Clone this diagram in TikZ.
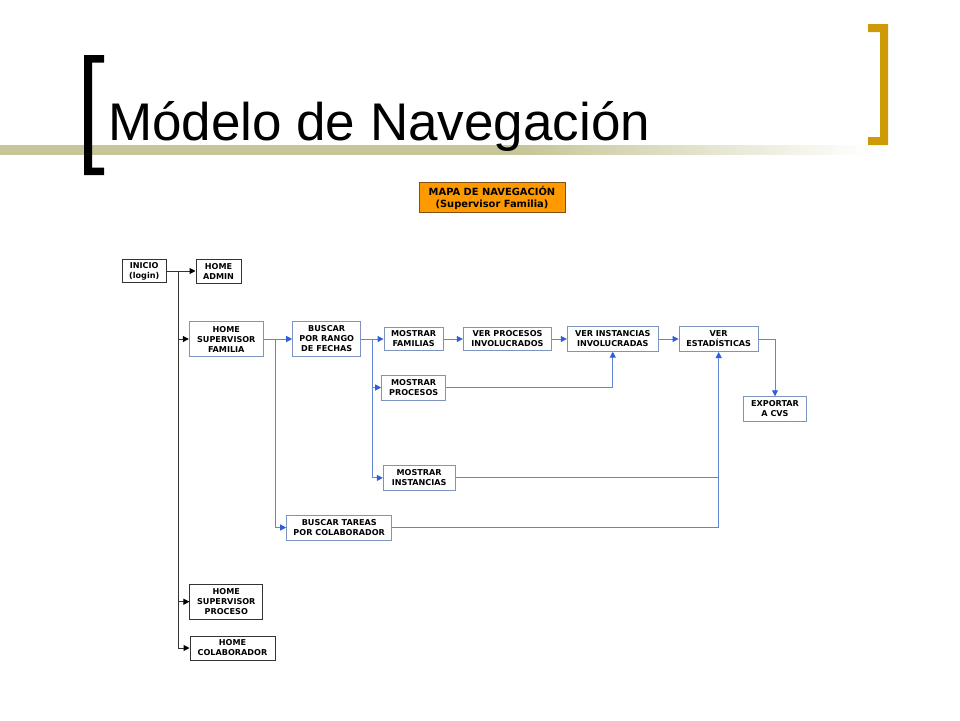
\documentclass[tikz,border=0pt]{standalone}
\usepackage{fontspec}
\usepackage{xcolor}
\usepackage{tikz}
\usetikzlibrary{arrows.meta}
\setmainfont{Liberation Sans}
\newfontfamily\navfont{DejaVu Sans}
\definecolor{olivebar}{RGB}{198,198,152}
\definecolor{bracketgold}{RGB}{206,154,8}
\definecolor{boxblue}{RGB}{125,148,192}
\definecolor{lineblue}{RGB}{98,132,210}
\definecolor{tipblue}{RGB}{45,95,220}
\definecolor{mapaorange}{RGB}{255,153,0}
\definecolor{mapaedge}{RGB}{130,80,20}
\pgfdeclarehorizontalshading{barfade}{100bp}{color(0bp)=(olivebar); color(25bp)=(olivebar); color(55bp)=(olivebar); color(75bp)=(white); color(100bp)=(white)}

\begin{document}
\begin{tikzpicture}[x=1pt,y=-1pt,
  navbox/.style={draw=boxblue, line width=1pt, fill=white, align=center, inner sep=0pt,
    font=\navfont\bfseries\fontsize{8.1}{10}\selectfont},
  homebox/.style={navbox, draw=black!80},
  link/.style={draw=lineblue, line width=1pt, -{Triangle[length=6pt,width=6pt,color=tipblue]}},
  trunk/.style={draw=black!80, line width=1pt, -{Triangle[length=6pt,width=6pt,color=black]}}]
\useasboundingbox (0,0) rectangle (960,720);
% title bar
\shade[shading=barfade] (0,145) rectangle (870,154);
\fill[black] (104,55) -- (84,55) -- (84,175) -- (104,175) -- (104,167.5) -- (92,167.5) -- (92,62.5) -- (104,62.5) -- cycle;
\fill[bracketgold] (868,24) -- (888,24) -- (888,145) -- (868,145) -- (868,137) -- (880,137) -- (880,32) -- (868,32) -- cycle;
\node[anchor=base west, inner sep=0pt, font=\fontsize{53}{60}\selectfont] (title) at (107.8,140.5) {Módelo de Navegación};
\node[draw=mapaedge, line width=1pt, fill=mapaorange, minimum width=146pt, minimum height=30pt, align=center, inner sep=0pt,
  font=\navfont\bfseries\fontsize{9.9}{12}\selectfont] (mapa) at (492,197.7) {MAPA DE NAVEGACIÓN\\(Supervisor Familia)};
% boxes
\foreach \n/\x/\y/\w/\h/\t in {inicio/144.2/271/43.7/23.7/{INICIO\\(login)}, admin/218.5/271/45/24/{HOME\\ADMIN},
    hsp/226.3/601.7/72.7/35.3/{HOME\\SUPERVISOR\\PROCESO}, hcol/232.5/648/85/24/{HOME\\COLABORADOR}}
  \node[homebox, minimum width=\w pt, minimum height=\h pt] (\n) at (\x,\y) {\t};
\foreach \n/\x/\y/\w/\h/\t in {hsf/226.3/339/74/34.4/{HOME\\SUPERVISOR\\FAMILIA}, fechas/326.7/339/68/34.3/{BUSCAR\\POR RANGO\\DE FECHAS},
    mfam/413.7/339/59.3/23.3/{MOSTRAR\\FAMILIAS}, vproc/507.5/339/88.4/23.3/{VER PROCESOS\\INVOLUCRADOS},
    vinst/612.8/339/91/24.3/{VER INSTANCIAS\\INVOLUCRADAS}, vest/718.7/339/79.3/25/{VER\\ESTADÍSTICAS},
    export/775/408.9/63.4/24.3/{EXPORTAR\\A CVS}, mproc/413.7/387.5/64/25/{MOSTRAR\\PROCESOS},
    minst/419.2/477.9/71.7/24.3/{MOSTRAR\\INSTANCIAS}, btareas/339.2/527.5/105/25/{BUSCAR TAREAS\\POR COLABORADOR}}
  \node[navbox, minimum width=\w pt, minimum height=\h pt] (\n) at (\x,\y) {\t};
% connectors
\coordinate (tr) at (178.3,271);
\coordinate (b1) at (275,339);
\coordinate (b2) at (372,339);
\draw[trunk] (inicio) -- (admin);
\foreach \n in {hsf,hsp,hcol} \draw[trunk] (tr) |- (\n);
\draw[link] (hsf) -- (fechas);
\draw[link] (b1) |- (btareas);
\draw[link] (fechas) -- (mfam);
\draw[link] (b2) |- (mproc);
\draw[link] (b2) |- (minst);
\draw[link] (mfam) -- (vproc);
\draw[link] (vproc) -- (vinst);
\draw[link] (vinst) -- (vest);
\draw[link] (vest) -| (export);
\draw[link] (mproc) -| (vinst);
\draw[link] (btareas) -| (vest);
\draw[link, -] (minst) -- (minst -| vest);
\end{tikzpicture}
\end{document}
